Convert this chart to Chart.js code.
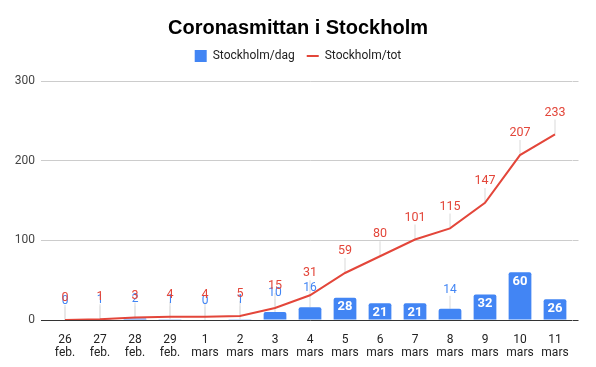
<!DOCTYPE html>
<html>
<head>
<meta charset="utf-8">
<script src="https://cdn.jsdelivr.net/npm/chart.js@4/dist/chart.umd.min.js"></script>
<style>
  body { margin: 0; background: #fff; }
  #wrap { width: 596px; height: 367px; }
</style>
</head>
<body>
<div id="wrap"><canvas id="coronaChart"></canvas></div>
<script>
// Data
const categories = [
    ['26', 'feb.'], ['27', 'feb.'], ['28', 'feb.'], ['29', 'feb.'],
    ['1', 'mars'], ['2', 'mars'], ['3', 'mars'], ['4', 'mars'], ['5', 'mars'],
    ['6', 'mars'], ['7', 'mars'], ['8', 'mars'], ['9', 'mars'], ['10', 'mars'], ['11', 'mars']
];
const dailyCases = [0, 1, 2, 1, 0, 1, 10, 16, 28, 21, 21, 14, 32, 60, 26];
const totalCases = [0, 1, 3, 4, 4, 5, 15, 31, 59, 80, 101, 115, 147, 207, 233];
const yMin = 0;
const yMax = 300;
const yStep = 100;

const BLUE = '#4285f4';
const RED = '#e3463a';
const FONT = 'Roboto, "Noto Sans", sans-serif';

// Annotation labels with small stems, like the spreadsheet chart
const annotationPlugin = {
    id: 'annotations',
    beforeLayout(chart) {
        // a bit more room between the legend and the plot
        const legend = chart.legend;
        if (legend && !legend._extraRoom) {
            const fit = legend.fit;
            legend.fit = function () { fit.call(this); this.height += 9; };
            legend._extraRoom = true;
        }
    },
    beforeDatasetsDraw(chart) {
        const ctx = chart.ctx;
        ctx.save();
        ctx.strokeStyle = '#e6e6e6';
        ctx.lineWidth = 1.5;
        const barMeta = chart.getDatasetMeta(0);
        barMeta.data.forEach(bar => {
            if (bar.base - bar.y >= 16) return;
            ctx.beginPath();
            ctx.moveTo(bar.x, bar.y);
            ctx.lineTo(bar.x, bar.y - 13);
            ctx.stroke();
        });
        const lineMeta = chart.getDatasetMeta(1);
        lineMeta.data.forEach(pt => {
            ctx.beginPath();
            ctx.moveTo(pt.x, pt.y);
            ctx.lineTo(pt.x, pt.y - 15);
            ctx.stroke();
        });
        ctx.restore();
    },
    afterDatasetsDraw(chart) {
        const ctx = chart.ctx;
        ctx.save();
        ctx.textAlign = 'center';
        ctx.textBaseline = 'middle';
        const barMeta = chart.getDatasetMeta(0);
        barMeta.data.forEach((bar, i) => {
            const v = chart.data.datasets[0].data[i];
            if (bar.base - bar.y >= 16) {
                ctx.font = 'bold 13px ' + FONT;
                ctx.fillStyle = '#ffffff';
                ctx.fillText(String(v), bar.x, bar.y + 9.5);
            } else {
                ctx.font = '12px ' + FONT;
                ctx.fillStyle = BLUE;
                ctx.fillText(String(v), bar.x, bar.y - 19);
            }
        });
        const lineMeta = chart.getDatasetMeta(1);
        lineMeta.data.forEach((pt, i) => {
            ctx.font = '12.5px ' + FONT;
            ctx.fillStyle = RED;
            ctx.fillText(String(chart.data.datasets[1].data[i]), pt.x, pt.y - 22);
        });
        ctx.restore();
    }
};

new Chart(document.getElementById('coronaChart'), {
    type: 'bar',
    data: {
        labels: categories,
        datasets: [
            {
                label: 'Stockholm/dag',
                data: dailyCases,
                backgroundColor: BLUE,
                borderRadius: 2,
                borderSkipped: 'bottom',
                categoryPercentage: 1,
                barPercentage: 0.65,
                pointStyle: 'rect',
                order: 2
            },
            {
                type: 'line',
                label: 'Stockholm/tot',
                data: totalCases,
                borderColor: RED,
                backgroundColor: RED,
                borderWidth: 2,
                pointRadius: 0,
                tension: 0,
                pointStyle: 'line',
                order: 1
            }
        ]
    },
    options: {
        responsive: true,
        maintainAspectRatio: false,
        animation: false,
        layout: { padding: 0 },
        plugins: {
            title: {
                display: true,
                text: 'Coronasmittan i Stockholm',
                color: '#000',
                font: { family: '"Liberation Sans", Arial, sans-serif', size: 20, weight: 'bold', lineHeight: 1 },
                padding: { top: 18, bottom: 0 }
            },
            legend: {
                display: true,
                labels: {
                    usePointStyle: true,
                    pointStyleWidth: 12,
                    boxHeight: 12,
                    padding: 12,
                    color: '#222',
                    font: { family: FONT, size: 12 },
                    sort: (a, b) => a.datasetIndex - b.datasetIndex
                }
            },
            tooltip: { enabled: false }
        },
        scales: {
            x: {
                offset: true,
                grid: { display: false },
                border: { display: false },
                ticks: { color: '#222', font: { family: FONT, size: 12, lineHeight: 1.1 }, padding: 5, maxRotation: 0, autoSkip: false },
                afterFit: s => { s.height = 47; }
            },
            y: {
                min: yMin,
                max: yMax,
                ticks: { stepSize: yStep, color: '#444', font: { family: FONT, size: 12 }, padding: 6 },
                grid: {
                    color: c => (c.tick && c.tick.value === 0 ? '#333' : '#cccccc'),
                    tickLength: 6.5,
                    lineWidth: 1
                },
                border: { display: false },
                afterFit: s => { s.width = 47.5; }
            },
            y2: {
                position: 'right',
                min: yMin,
                max: yMax,
                ticks: { stepSize: yStep, display: false },
                grid: {
                    drawOnChartArea: false,
                    color: c => (c.tick && c.tick.value === 0 ? '#333' : '#cccccc'),
                    tickLength: 6
                },
                border: { display: false },
                afterFit: s => { s.width = 23.5; }
            }
        }
    },
    plugins: [annotationPlugin]
});
</script>
</body>
</html>
